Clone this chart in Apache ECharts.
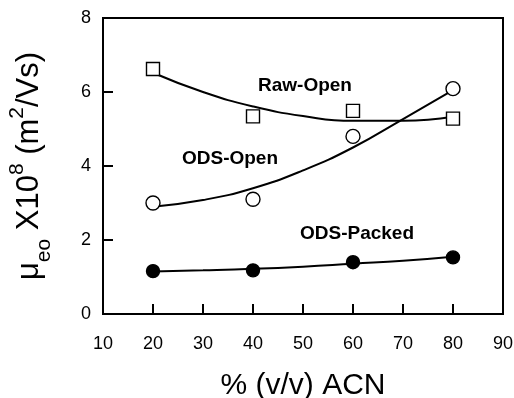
<!DOCTYPE html>
<html>
<head>
<meta charset="utf-8">
<script src="https://cdn.jsdelivr.net/npm/echarts@6/dist/echarts.min.js"></script>
<style>
  html, body { margin: 0; padding: 0; background: #fff; }
  #chart { width: 514px; height: 398px; }
</style>
</head>
<body>
<div id="chart"></div>
<script>
// measured points
const acn = [20, 40, 60, 80];
const rawOpen = [6.62, 5.34, 5.49, 5.28];
const odsOpen = [3.0, 3.1, 4.8, 6.09];
const odsPacked = [1.16, 1.18, 1.4, 1.53];

// fitted curves
const curveX = [20, 30, 40, 50, 60, 70, 80];
const rawOpenFit = [6.52, 6.0, 5.61, 5.35, 5.22, 5.22, 5.33];
const odsOpenFit = [2.9, 3.08, 3.4, 3.88, 4.5, 5.27, 6.05];
const odsPackedFit = [1.15, 1.18, 1.22, 1.28, 1.36, 1.44, 1.55];

const xTicks = [10, 20, 30, 40, 50, 60, 70, 80, 90];
const yTicks = [0, 2, 4, 6, 8];

// curve labels in data coordinates
const labels = [
  { text: 'Raw-Open', at: [50.4, 6.17] },
  { text: 'ODS-Open', at: [35.4, 4.2] },
  { text: 'ODS-Packed', at: [60.8, 2.16] }
];

const font = '"Liberation Sans", Arial, sans-serif';
const pairs = (xs, ys) => xs.map((x, i) => [x, ys[i]]);

const chart = echarts.init(document.getElementById('chart'));

const lineSeries = (data) => ({
  type: 'line',
  data: pairs(curveX, data),
  smooth: true,
  showSymbol: false,
  lineStyle: { color: '#000', width: 2 },
  z: 2,
  silent: true
});

const pointSeries = (data, symbol, fill, size) => ({
  type: 'scatter',
  data: pairs(acn, data),
  symbol: symbol,
  symbolSize: size,
  itemStyle: { color: fill, borderColor: '#000', borderWidth: 1.4, opacity: 1 },
  z: 5
});

chart.setOption({
  animation: false,
  backgroundColor: '#fff',
  grid: {
    left: 103, right: 11, top: 18, bottom: 84,
    outerBoundsMode: 'none',
    show: true, borderColor: '#000', borderWidth: 2
  },
  xAxis: {
    type: 'value',
    min: xTicks[0], max: xTicks[xTicks.length - 1], interval: 10,
    splitLine: { show: false },
    axisLine: { lineStyle: { color: '#000', width: 2 } },
    axisTick: { inside: true, length: 10, lineStyle: { color: '#000', width: 2 } },
    axisLabel: { color: '#000', fontSize: 18, fontFamily: font, margin: 21 },
    name: '% (v/v) ACN',
    nameLocation: 'middle',
    nameGap: 57,
    nameTextStyle: { color: '#000', fontSize: 30, fontFamily: font }
  },
  yAxis: {
    type: 'value',
    min: yTicks[0], max: yTicks[yTicks.length - 1], interval: 2,
    splitLine: { show: false },
    axisLine: { lineStyle: { color: '#000', width: 2 } },
    axisTick: { inside: true, length: 10, lineStyle: { color: '#000', width: 2 } },
    axisLabel: { color: '#000', fontSize: 18, fontFamily: font, margin: 12 },
    name: '{m|\u03bc}{sub|eo}{m| X10}{sup|8}{m| (m}{sup|2}{m|/Vs)}',
    nameLocation: 'middle',
    nameGap: 58,
    nameRotate: 90,
    nameTextStyle: {
      color: '#000',
      fontFamily: font,
      rich: {
        m: { fontSize: 31, fontFamily: font, color: '#000', verticalAlign: 'bottom', lineHeight: 38 },
        sub: { fontSize: 21, fontFamily: font, color: '#000', verticalAlign: 'bottom', padding: [0, 0, -10, 0], lineHeight: 38 },
        sup: { fontSize: 21, fontFamily: font, color: '#000', verticalAlign: 'top', lineHeight: 38 }
      }
    }
  },
  series: [
    lineSeries(rawOpenFit),
    lineSeries(odsOpenFit),
    lineSeries(odsPackedFit),
    pointSeries(rawOpen, 'rect', '#fff', 13),
    pointSeries(odsOpen, 'circle', '#fff', 14),
    pointSeries(odsPacked, 'circle', '#000', 13)
  ]
});

chart.setOption({
  graphic: labels.map(l => {
    const p = chart.convertToPixel({ gridIndex: 0 }, l.at);
    return {
      type: 'text',
      x: p[0], y: p[1],
      style: {
        text: l.text, fill: '#000', fontSize: 19, fontWeight: 'bold', fontFamily: font,
        textAlign: 'center', textVerticalAlign: 'middle'
      },
      z: 10
    };
  })
});
</script>
</body>
</html>
